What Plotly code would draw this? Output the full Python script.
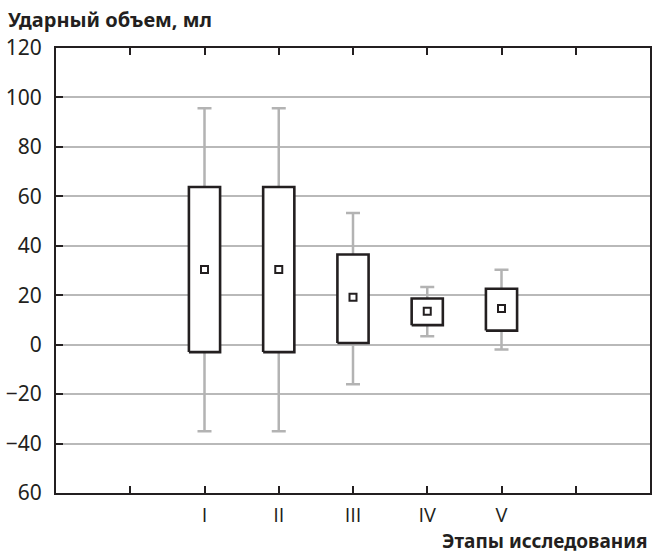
import plotly.graph_objects as go

# ---- data ----
stages = ["I", "II", "III", "IV", "V"]
positions = [2, 3, 4, 5, 6]
lower_whisker = [-35, -35, -16, 3.4, -2]
q1 = [-3, -3, 0.7, 7.9, 5.7]
center = [30.4, 30.4, 19.2, 13.5, 14.6]
q3 = [63.8, 63.8, 36.5, 18.7, 22.6]
upper_whisker = [95.6, 95.6, 53.3, 23.3, 30.3]

y_tickvals = [120, 100, 80, 60, 40, 20, 0, -20, -40, -60]
y_ticktext = ["120", "100", "80", "60", "40", "20", "0", "\u221220", "\u221240", "60"]
x_tickvals = [1, 2, 3, 4, 5, 6, 7]
x_ticktext = [" ", "I", "II", "III", "IV", "V", " "]

BOX_HALF = 0.21
DARK = "#231f20"
GRAY = "#b3b3b3"
FONT = "Noto Sans"
XFONT = "Open Sans"

fig = go.Figure()

# whiskers (gray) with caps
fig.add_trace(go.Scatter(
    x=positions, y=center, mode="markers",
    marker=dict(size=1, color="rgba(0,0,0,0)"),
    error_y=dict(type="data", symmetric=False,
                 array=[u - c for u, c in zip(upper_whisker, center)],
                 arrayminus=[c - l for c, l in zip(center, lower_whisker)],
                 color=GRAY, thickness=2.5, width=7),
    hoverinfo="skip", showlegend=False))

# boxes
for p, lo, hi in zip(positions, q1, q3):
    fig.add_trace(go.Scatter(
        x=[p - BOX_HALF, p + BOX_HALF, p + BOX_HALF, p - BOX_HALF, p - BOX_HALF],
        y=[lo, lo, hi, hi, lo],
        mode="lines", fill="toself", fillcolor="white",
        line=dict(color=DARK, width=2.6),
        hoverinfo="skip", showlegend=False))

# central markers
fig.add_trace(go.Scatter(
    x=positions, y=center, mode="markers",
    marker=dict(symbol="square", size=7, color="white",
                line=dict(color=DARK, width=2)),
    hoverinfo="skip", showlegend=False))

fig.update_layout(
    width=657, height=553,
    margin=dict(l=56, r=5, t=48, b=60),
    plot_bgcolor="white", paper_bgcolor="white",
    font=dict(family=FONT, color=DARK, size=21),
    title=dict(text="<b>Ударный объем, мл</b>", x=8 / 657, xanchor="left",
               y=1 - 20 / 553, yanchor="middle",
               font=dict(family=FONT, size=20, color=DARK)),
    xaxis=dict(range=[0, 8], tickvals=x_tickvals, ticktext=x_ticktext,
               showgrid=False, zeroline=False,
               showline=True, mirror="ticks", linecolor=DARK, linewidth=2,
               ticks="inside", ticklen=7, tickwidth=1.5, tickcolor=DARK,
               ticklabelstandoff=3,
               tickfont=dict(family=XFONT, size=20, color=DARK)),
    yaxis=dict(range=[-60, 120], tickvals=y_tickvals, ticktext=y_ticktext,
               showgrid=True, gridcolor="#b9b9b9", gridwidth=1.5, zeroline=False,
               showline=True, mirror=True, linecolor=DARK, linewidth=2,
               ticks="inside", ticklen=7, tickwidth=1.5, tickcolor=DARK,
               ticklabelstandoff=8,
               tickfont=dict(family=FONT, size=21, color=DARK)),
    annotations=[dict(text="<b>Этапы исследования</b>", xref="paper", yref="paper",
                      x=1, xanchor="right", y=-(541 - 493) / 445, yanchor="middle",
                      showarrow=False, font=dict(family=FONT, size=19, color=DARK))],
)

fig.write_html("out.html")
